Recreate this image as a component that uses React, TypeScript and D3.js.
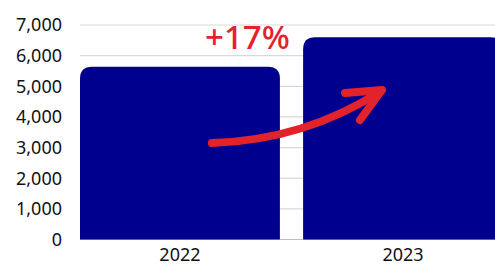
import * as d3 from 'd3';

const categories = ['2022', '2023'];
const values = [5640, 6600];
const yTicks = [0, 1000, 2000, 3000, 4000, 5000, 6000, 7000];
const growthLabel = '+17%';

const W = 495;
const H = 266;
const LEFT = 80;
const TOP = 25;
const BOTTOM = 239.5;

function topRounded(x: number, y: number, w: number, h: number, r: number) {
  return `M${x},${y + h}V${y + r}Q${x},${y} ${x + r},${y}H${x + w - r}Q${x + w},${y} ${x + w},${y + r}V${y + h}Z`;
}

export default function App() {
  const x = d3.scaleBand<string>().domain(categories).range([LEFT, 503]).paddingInner(0.104).paddingOuter(0);
  const y = d3.scaleLinear().domain([0, 7000]).range([BOTTOM, TOP]);
  const fmt = d3.format(',');

  // curved arrow from first bar up into second
  const arrow = d3.path();
  arrow.moveTo(212, 143);
  arrow.quadraticCurveTo(305, 140, 381, 91);
  const head = d3.path();
  head.moveTo(345, 93);
  head.lineTo(382, 90);
  head.lineTo(360, 120);

  return (
    <svg width={W} height={H} style={{ position: 'fixed', left: 0, top: 0, background: '#fff' }}
      fontFamily="'Noto Sans', sans-serif">
      {yTicks.map(t => (
        <g key={t}>
          {t > 0 && <line x1={LEFT} x2={W} y1={y(t)} y2={y(t)} stroke="#d9d9d9" strokeWidth={1.2} />}
          <text x={62} y={y(t)} dy="0.36em" textAnchor="end" fontSize={18} fill="#111">{fmt(t)}</text>
        </g>
      ))}
      <line x1={LEFT} x2={W} y1={BOTTOM} y2={BOTTOM} stroke="#bfbfbf" strokeWidth={1.2} />
      {categories.map((c, i) => (
        <g key={c}>
          <path d={topRounded(x(c)!, y(values[i]), x.bandwidth(), BOTTOM - y(values[i]), 12)} fill="#00008f" />
          <text x={x(c)! + x.bandwidth() / 2} y={261} textAnchor="middle" fontSize={18} fill="#111">{c}</text>
        </g>
      ))}
      <text x={205} y={49} fontSize={33} fontWeight={500} fill="#e3232b">{growthLabel}</text>
      <path d={arrow.toString()} fill="none" stroke="#e3232b" strokeWidth={8} strokeLinecap="round" />
      <path d={head.toString()} fill="none" stroke="#e3232b" strokeWidth={8} strokeLinecap="round" strokeLinejoin="round" />
    </svg>
  );
}
